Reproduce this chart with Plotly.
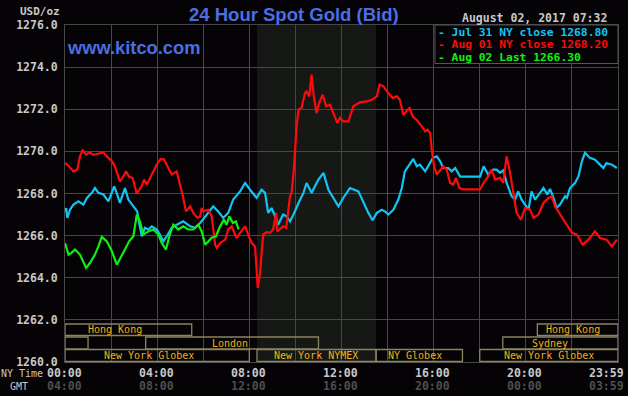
import plotly.graph_objects as go

# ---------------- data (NY time in minutes after midnight, price USD/oz) ----------------
jul31_min = [0, 3, 6, 13, 22, 35, 48, 57, 70, 78, 87, 100, 113, 122, 128, 136, 143, 152, 156, 165,
             178, 188, 193, 200, 208, 217, 226, 239, 247, 256, 265, 278, 291, 308, 326, 339, 352, 365,
             386, 399, 412, 425, 438, 456, 469, 482, 499, 512, 521, 529, 538, 547, 555, 568, 577, 586,
             595, 608, 621, 629, 642, 660, 673, 686, 697, 712, 725, 742, 764, 777, 790, 801, 812, 825,
             833, 842, 855, 868, 877, 885, 898, 907, 916, 924, 938, 949, 958, 968, 977, 985, 998, 1007,
             1016, 1029, 1081, 1090, 1102, 1114, 1124, 1133, 1141, 1150, 1163, 1172, 1180, 1189, 1198,
             1207, 1215, 1224, 1237, 1246, 1256, 1263, 1272, 1280, 1289, 1302, 1307, 1315, 1328, 1337,
             1346, 1354, 1367, 1380, 1393, 1402, 1410, 1424, 1437]
jul31_px = [1267.14, 1267.31, 1266.84, 1267.23, 1267.47, 1267.63, 1267.47, 1267.79, 1268.03, 1268.26,
            1268.03, 1267.95, 1267.63, 1268.03, 1268.34, 1267.95, 1267.55, 1268.03, 1268.26, 1267.71,
            1267.39, 1267.15, 1266.60, 1265.97, 1266.37, 1266.29, 1266.44, 1266.29, 1266.05, 1265.73,
            1265.97, 1266.37, 1266.52, 1266.68, 1266.44, 1266.37, 1266.60, 1266.92, 1267.39, 1267.15,
            1266.84, 1267.08, 1267.71, 1268.10, 1268.50, 1268.18, 1267.79, 1268.18, 1268.03, 1267.08,
            1267.31, 1266.92, 1266.52, 1267.00, 1266.92, 1266.68, 1267.00, 1267.55, 1268.03, 1268.50,
            1268.03, 1268.66, 1268.98, 1268.18, 1267.87, 1267.39, 1267.80, 1268.26, 1268.10, 1267.55,
            1267.08, 1266.73, 1267.08, 1267.23, 1267.15, 1267.00, 1267.23, 1267.71, 1268.26, 1269.05,
            1269.37, 1269.64, 1269.29, 1269.37, 1269.05, 1269.37, 1269.69, 1269.76, 1269.53, 1269.21,
            1269.21, 1269.05, 1269.21, 1268.80, 1268.80, 1269.29, 1268.90, 1269.13, 1269.13, 1268.98,
            1269.10, 1268.50, 1267.87, 1267.71, 1268.10, 1267.71, 1267.47, 1267.23, 1268.10, 1267.71,
            1268.03, 1268.26, 1267.95, 1268.22, 1267.79, 1267.31, 1267.47, 1267.87, 1267.79, 1268.26,
            1268.50, 1268.81, 1269.53, 1269.93, 1269.69, 1269.61, 1269.37, 1269.21, 1269.45, 1269.37,
            1269.21]

aug01_min = [0, 9, 22, 32, 39, 46, 55, 63, 74, 91, 100, 109, 122, 130, 143, 152, 159, 167, 176, 187,
             200, 206, 213, 226, 239, 249, 258, 269, 278, 291, 299, 307, 315, 326, 334, 345, 352, 356,
             360, 373, 382, 391, 395, 404, 417, 425, 434, 447, 456, 469, 477, 486, 495, 499, 502, 508,
             516, 525, 534, 542, 550, 553, 568, 576, 579, 586, 590, 596, 603, 608, 616, 625, 629, 636,
             642, 648, 655, 662, 671, 680, 690, 699, 709, 716, 725, 738, 751, 768, 786, 799, 812, 819,
             829, 842, 853, 864, 872, 881, 890, 897, 905, 917, 929, 938, 944, 951, 955, 961, 968, 977,
             985, 994, 1003, 1011, 1018, 1027, 1035, 1081, 1090, 1102, 1111, 1120, 1133, 1141, 1150,
             1159, 1167, 1176, 1187, 1198, 1211, 1220, 1233, 1246, 1259, 1267, 1276, 1289, 1298, 1311,
             1320, 1333, 1348, 1363, 1380, 1393, 1410, 1424, 1437]
aug01_px = [1269.45, 1269.32, 1269.05, 1269.13, 1269.76, 1270.05, 1269.84, 1269.95, 1269.84, 1269.89,
            1269.95, 1269.76, 1269.53, 1269.29, 1268.58, 1268.81, 1269.05, 1268.79, 1268.74, 1267.99,
            1268.37, 1268.66, 1268.42, 1268.90, 1269.37, 1269.64, 1269.61, 1269.21, 1268.90, 1269.05,
            1268.50, 1267.87, 1267.15, 1267.39, 1267.08, 1266.84, 1266.92, 1267.31, 1267.15, 1267.23,
            1266.92, 1265.57, 1265.42, 1265.65, 1265.81, 1266.29, 1266.44, 1265.89, 1266.13, 1266.44,
            1266.05, 1265.65, 1265.49, 1264.54, 1263.52, 1264.23, 1266.05, 1266.16, 1266.13, 1266.29,
            1267.08, 1266.20, 1266.44, 1266.37, 1266.90, 1267.87, 1268.03, 1269.13, 1271.19, 1271.98,
            1272.06, 1272.77, 1272.85, 1272.61, 1273.64, 1272.61, 1271.82, 1272.30, 1272.69, 1272.14,
            1272.22, 1271.82, 1271.35, 1271.59, 1271.42, 1271.42, 1272.14, 1272.33, 1272.37, 1272.45,
            1272.61, 1273.17, 1273.09, 1272.77, 1272.54, 1272.61, 1272.45, 1271.74, 1271.90, 1272.06,
            1271.66, 1271.47, 1271.19, 1270.95, 1271.03, 1270.87, 1270.08, 1269.29, 1268.90, 1269.13,
            1269.29, 1269.13, 1268.50, 1268.42, 1268.74, 1268.26, 1268.20, 1268.20, 1268.50, 1268.81,
            1269.13, 1268.66, 1268.74, 1268.50, 1269.76, 1268.98, 1268.03, 1267.08, 1266.76, 1267.31,
            1267.23, 1266.84, 1267.00, 1267.55, 1267.79, 1267.87, 1267.39, 1267.00, 1266.76, 1266.37,
            1266.13, 1266.05, 1265.57, 1265.81, 1266.20, 1265.89, 1265.81, 1265.49, 1265.81]

aug02_min = [0, 9, 17, 26, 39, 55, 65, 78, 87, 96, 109, 122, 135, 145, 156, 167, 178, 187, 195, 204,
             217, 230, 243, 252, 263, 273, 282, 295, 308, 321, 334, 347, 356, 365, 373, 382, 393, 404,
             414, 421, 428, 437, 445, 452]
aug02_px = [1265.65, 1265.10, 1265.18, 1265.34, 1265.10, 1264.47, 1264.70, 1265.10, 1265.49, 1265.94,
            1265.73, 1265.26, 1264.62, 1264.94, 1265.34, 1265.73, 1265.97, 1267.00, 1266.68, 1266.05,
            1266.20, 1266.29, 1266.05, 1265.65, 1265.34, 1266.05, 1266.52, 1266.29, 1266.44, 1266.29,
            1266.29, 1266.52, 1266.20, 1265.57, 1265.73, 1265.90, 1265.97, 1266.44, 1266.76, 1266.52,
            1266.92, 1266.60, 1266.68, 1266.30]

series_names = ["Jul 31 NY close 1268.80", "Aug 01 NY close 1268.20", "Aug 02 Last 1266.30"]
series_colors = ["#12c4f4", "#ff0a0a", "#10f010"]

ny_labels = ["00:00", "04:00", "08:00", "12:00", "16:00", "20:00", "23:59"]
gmt_labels = ["04:00", "08:00", "12:00", "16:00", "20:00", "00:00", "03:59"]
label_minutes = [0, 240, 480, 720, 960, 1200, 1439]

# market sessions: (row, start_min, end_min, label, label_center_min)
sessions = [
    (0, 0, 330, "Hong Kong", 130),
    (0, 1230, 1440, "Hong Kong", 1324),
    (1, 0, 60, "", 0),
    (1, 210, 660, "London", 430),
    (1, 1140, 1440, "Sydney", 1262),
    (2, 0, 480, "New York Globex", 219),
    (2, 500, 810, "New York NYMEX", 654),
    (2, 810, 1035, "NY Globex", 911),
    (2, 1080, 1440, "New York Globex", 1260),
]
nymex_start, nymex_end = 500, 810

# ---------------- figure ----------------
BG = "#050306"
L, R, T, B = 65, 10, 25, 34
W, H = 628, 396
PW, PH = W - L - R, H - T - B


def pxx(px):
    return (px - L) / PW


def pxy(py):
    return (H - B - py) / PH


fig = go.Figure()
for xs, ys, name, col in zip([jul31_min, aug01_min, aug02_min], [jul31_px, aug01_px, aug02_px],
                             series_names, series_colors):
    fig.add_trace(go.Scatter(x=xs, y=ys, mode="lines", name=name,
                             line=dict(color=col, width=2.2), hoverinfo="skip"))

mono = "DejaVu Sans Mono"
shapes = [dict(type="rect", xref="x", yref="paper", x0=nymex_start, x1=nymex_end, y0=0, y1=1,
               fillcolor="#161816", line=dict(width=0), layer="below")]

row_px = [(324, 335.5), (337, 349), (349.5, 361.5)]
annotations = []
for row, s, e, lab, c in sessions:
    top, bot = row_px[row]
    shapes.append(dict(type="rect", xref="x", yref="paper", x0=s, x1=e, y0=pxy(bot), y1=pxy(top),
                       line=dict(color="#8c845e", width=1.3), fillcolor="rgba(0,0,0,0)", layer="above"))
    if lab:
        annotations.append(dict(x=c, y=pxy((top + bot) / 2), xref="x", yref="paper", text=lab,
                                showarrow=False, font=dict(family=mono, size=10, color="#f0b418"),
                                xanchor="center", yanchor="middle", borderpad=0))

# legend box
shapes.append(dict(type="rect", xref="paper", yref="paper", x0=pxx(435), x1=1, y0=pxy(63.5), y1=1,
                   fillcolor=BG, line=dict(color="#555555", width=1), layer="above"))
for i, (name, col) in enumerate(zip(series_names, series_colors)):
    yy = pxy(32 + i * 12.6)
    annotations.append(dict(x=pxx(437), y=yy, xref="paper", yref="paper", text="- " + name,
                            showarrow=False, borderpad=0,
                            font=dict(family=mono, size=11.3, color=col, weight="bold"),
                            xanchor="left", yanchor="middle"))

# time labels
for m, ny, gmt in zip(label_minutes, ny_labels, gmt_labels):
    last = m == label_minutes[-1]
    for txt, py, colr in [(ny, 373, "#c8c8c8"), (gmt, 386, "#4e4e4e")]:
        annotations.append(dict(x=m, y=pxy(py), xref="x", yref="paper", text=txt, showarrow=False,
                                font=dict(family=mono, size=11.5, color=colr, weight="bold"),
                                xanchor="right" if last else "center", xshift=7 if last else -1,
                                yanchor="middle", borderpad=0))
annotations.append(dict(x=pxx(0), y=pxy(374), xref="paper", yref="paper", text="NY Time",
                        showarrow=False, font=dict(family=mono, size=10, color="#c8c8c8"),
                        xanchor="left", yanchor="middle", borderpad=0))
annotations.append(dict(x=pxx(9), y=pxy(386), xref="paper", yref="paper", text="GMT",
                        showarrow=False, font=dict(family=mono, size=10, color="#c8c8c8"),
                        xanchor="left", yanchor="middle", borderpad=0))

# titles / labels
annotations += [
    dict(x=pxx(293.5), y=pxy(14), xref="paper", yref="paper", text="24 Hour Spot Gold (Bid)",
         showarrow=False, font=dict(family="Liberation Sans", size=18.5, color="#4a6fe3", weight="bold"),
         xanchor="center", yanchor="middle"),
    dict(x=pxx(65), y=pxy(47), xref="paper", yref="paper", text="www.kitco.com",
         showarrow=False, font=dict(family="Liberation Sans", size=18.3, color="#4a6fe3", weight="bold"),
         xanchor="left", yanchor="middle"),
    dict(x=pxx(608), y=pxy(18.5), xref="paper", yref="paper", text="August 02, 2017 07:32",
         showarrow=False, font=dict(family=mono, size=11.5, color="#c8c8c8", weight="bold"),
         xanchor="right", yanchor="middle", borderpad=0),
    dict(x=pxx(61), y=pxy(12), xref="paper", yref="paper", text="USD/oz",
         showarrow=False, font=dict(family=mono, size=11, color="#c8c8c8", weight="bold"),
         xanchor="right", yanchor="middle", borderpad=0),
]

fig.update_layout(
    width=W, height=H, margin=dict(l=L, r=R, t=T, b=B, autoexpand=False),
    paper_bgcolor=BG, plot_bgcolor=BG, showlegend=False,
    shapes=shapes, annotations=annotations,
    xaxis=dict(range=[0, 1440], tickmode="array", tickvals=list(range(0, 1441, 120)),
               showticklabels=False, showgrid=True, gridcolor="#474747", gridwidth=1,
               zeroline=False, showline=True, linecolor="#474747", mirror=True, fixedrange=True),
    yaxis=dict(range=[1260, 1276], dtick=2, tick0=1260, tickformat=".1f", showgrid=True,
               gridcolor="#474747", gridwidth=1, zeroline=False, showline=True, linecolor="#474747",
               mirror=True, ticks="", ticklabelstandoff=4,
               tickfont=dict(family=mono, size=11.5, color="#c8c8c8", weight="bold"), fixedrange=True),
)

fig.write_html("out.html", config={"displayModeBar": False},
               post_script="document.body.style.margin='0';document.body.style.background='#050306';")
